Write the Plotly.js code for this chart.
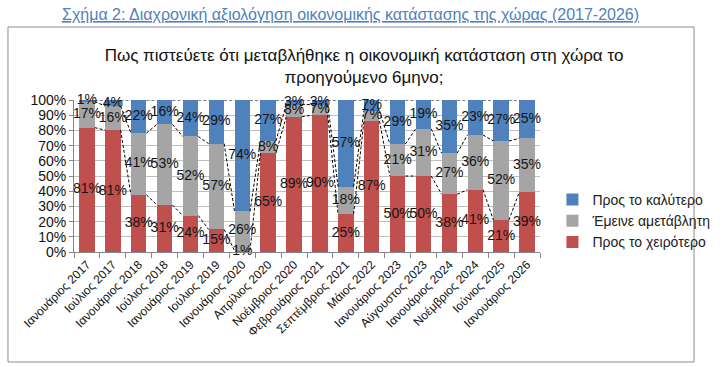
<!DOCTYPE html>
<html>
<head>
<meta charset="utf-8">
<script src="https://cdn.plot.ly/plotly-3.0.1.min.js"></script>
<style>
html,body{margin:0;padding:0;background:#fff;}
#chart{width:728px;height:367px;}
</style>
</head>
<body>
<div id="chart"></div>
<script>
const categories = ["Ιανουάριος 2017","Ιούλιος 2017","Ιανουάριος 2018","Ιούλιος 2018","Ιανουάριος 2019","Ιούλιος 2019","Ιανουάριος 2020","Απρίλιος 2020","Νοέμβριος 2020","Φεβρουάριος 2021","Σεπτέμβριος 2021","Μάιος 2022","Ιανουάριος 2023","Αύγουστος 2023","Ιανουάριος 2024","Νοέμβριος 2024","Ιούνιος 2025","Ιανουάριος 2026"];
const worse  = [81,81,38,31,24,15,1,65,89,90,25,87,50,50,38,41,21,39];
const same   = [17,16,41,53,52,57,26,8,8,7,18,7,21,31,27,36,52,35];
const better = [1,4,22,16,24,29,74,27,3,3,57,7,29,19,35,23,27,25];
const seriesNames = ["Προς το χειρότερο","Έμεινε αμετάβλητη","Προς το καλύτερο"];
const seriesColors = ["#C0504D","#A5A5A5","#4F81BD"];
const chartTitle = "Πως πιστεύετε ότι μεταβλήθηκε η οικονομική κατάσταση στη χώρα το<br>προηγούμενο 6μηνο;";
const figTitle = "Σχήμα 2: Διαχρονική αξιολόγηση οικονομικής κατάστασης της χώρας (2017-2026)";

const W = 728, H = 367;
const M = {l:74, r:167, t:100, b:115};
const PW = W - M.l - M.r, PH = H - M.t - M.b;
const px2x = p => (p - M.l) / PW;
const py2y = p => (H - M.b - p) / PH;

const regular = "'Liberation Sans',Arial,sans-serif";

const xs = categories.map((c,i)=>i);
const series = [worse, same, better];
const BW = 0.6;

// normalised (100% stacked)
const totals = xs.map(i => worse[i] + same[i] + better[i]);
const norm = series.map(s => s.map((v,i)=> v / totals[i] * 100));
const cumTop = [];
let running = xs.map(()=>0);
norm.forEach((s,k)=>{ running = running.map((r,i)=> r + s[i]); cumTop.push(running.slice()); });

const traces = [];
series.forEach((s,k)=>{
  traces.push({
    type:'bar', x: xs, y: s, name: seriesNames[k],
    marker:{color: seriesColors[k], line:{width:0}},
    hoverinfo:'skip'
  });
});

// series lines
cumTop.forEach((top,k)=>{
  const lx = [], ly = [];
  for(let i=0;i<xs.length-1;i++){
    lx.push(xs[i]+BW/2, xs[i+1]-BW/2, null);
    ly.push(top[i], top[i+1], null);
  }
  traces.push({type:'scatter', mode:'lines', x:lx, y:ly, showlegend:false, hoverinfo:'skip',
    line:{color:'#000', width:1, dash:'3px,2px'}, cliponaxis:false});
});

// data labels
series.forEach((s,k)=>{
  const ys = xs.map(i => cumTop[k][i] - norm[k][i]/2);
  traces.push({type:'scatter', mode:'text', x:xs, y:ys, text:s.map(v=>v+'%'),
    textposition:'middle center', showlegend:false, hoverinfo:'skip', cliponaxis:false,
    textfont:{family:regular, size:14, color:'#141414'}});
});

const boundaries = xs.concat([xs.length]).map(i => i - 0.5);

const layout = {
  width:W, height:H,
  margin:{l:M.l, r:M.r, t:M.t, b:M.b},
  paper_bgcolor:'#fff', plot_bgcolor:'#fff',
  barmode:'stack', barnorm:'percent', bargap:1-BW,
  showlegend:true,
  legend:{x:px2x(574), y:py2y(184), xanchor:'left', yanchor:'top', traceorder:'reversed',
    font:{family:regular, size:14, color:'#222'}, bgcolor:'rgba(0,0,0,0)', tracegroupgap:0},
  title:{text:chartTitle, x:0.5, xanchor:'center', y:1-61/H, yanchor:'middle',
    font:{family:regular, size:17, color:'#111'}},
  xaxis:{range:[-0.5, xs.length-0.5], tickmode:'array', tickvals:xs, ticktext:categories,
    tickangle:-45, ticks:'', showgrid:false, zeroline:false, showline:true, linecolor:'#868686',
    tickfont:{family:regular, size:12, color:'#111'},
    minor:{tickmode:'array', tickvals:boundaries, ticks:'outside', ticklen:5, tickcolor:'#868686', showgrid:false}},
  yaxis:{range:[0,100], tickmode:'linear', tick0:0, dtick:10, ticksuffix:'%',
    showgrid:true, gridcolor:'#BFBFBF', gridwidth:1, zeroline:false,
    showline:true, linecolor:'#868686', ticks:'outside', ticklen:4, tickcolor:'#868686',
    tickfont:{family:regular, size:14, color:'#111'}},
  annotations:[{text:'<u>'+figTitle+'</u>', xref:'paper', yref:'paper', x:px2x(363), y:py2y(15),
    xanchor:'center', yanchor:'middle', showarrow:false,
    font:{family:regular, size:16, color:'#4F81BD'}}],
  shapes:[{type:'rect', xref:'paper', yref:'paper', x0:px2x(5), x1:px2x(722), y0:py2y(362), y1:py2y(27),
    line:{color:'#8C8C8C', width:1}, fillcolor:'rgba(0,0,0,0)', layer:'below'}]
};

Plotly.newPlot('chart', traces, layout, {displayModeBar:false, staticPlot:true});
</script>
</body>
</html>
